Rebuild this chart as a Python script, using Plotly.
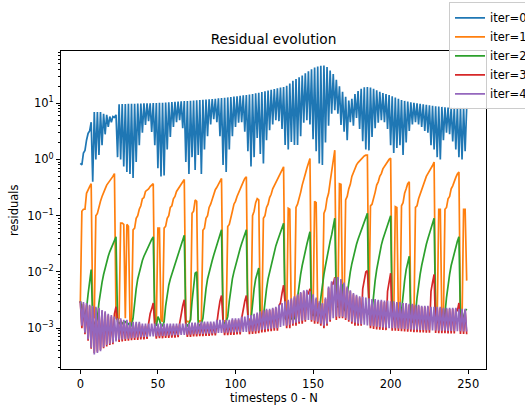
import plotly.graph_objects as go

# time axis: one sample per timestep
timesteps = list(range(250))

# residuals per Newton iteration (log scale)
iter0 = [
    0.85, 0.8, 1.3, 1.45, 2.2, 2.9, 3.2, 4.6, 0.4, 7.0,
    1.0, 7.0, 1.2, 7.0, 1.8, 6.5, 2.8, 6.2, 3.8, 5.8,
    4.6, 5.8, 5.6, 6.2, 1.1, 9.6, 1.0, 9.7, 0.75, 9.7,
    0.6, 9.8, 0.55, 9.8, 0.47, 9.8, 0.9, 9.9, 1.8, 9.9,
    3.0, 10.0, 4.1, 10.0, 4.8, 10.0, 3.1, 10.1, 1.8, 10.1,
    0.7, 10.2, 0.5, 10.2, 0.52, 10.3, 1.5, 10.4, 2.5, 10.5,
    3.8, 10.6, 4.6, 10.7, 5.0, 10.8, 3.6, 10.9, 0.9, 11.0,
    0.55, 11.1, 1.1, 11.2, 0.65, 11.3, 1.2, 11.4, 0.55, 11.5,
    1.5, 11.6, 2.6, 11.8, 4.2, 11.9, 5.2, 12.0, 4.6, 12.2,
    2.6, 12.4, 0.8, 12.5, 0.6, 12.7, 1.5, 12.9, 2.6, 13.1,
    3.8, 13.3, 4.5, 13.5, 4.6, 13.8, 3.1, 14.0, 1.4, 14.3,
    0.75, 14.6, 1.1, 15.0, 2.4, 15.4, 1.25, 15.8, 0.85, 16.3,
    2.2, 16.8, 3.3, 17.3, 4.2, 17.9, 5.0, 18.5, 4.8, 19.0,
    3.5, 19.5, 1.8, 20.5, 1.5, 22.5, 2.05, 25.0, 1.8, 27.0,
    1.8, 29.0, 2.6, 31.0, 4.5, 34.0, 5.0, 37.0, 4.2, 40.0,
    2.3, 43.0, 1.4, 45.0, 0.85, 46.5, 0.8, 47.0, 2.0, 44.0,
    4.0, 38.0, 6.5, 33.0, 7.5, 26.0, 6.5, 20.0, 4.1, 16.0,
    3.1, 13.0, 2.2, 11.2, 4.6, 12.0, 4.0, 14.5, 5.5, 16.5,
    3.5, 18.0, 2.1, 19.2, 1.5, 19.5, 1.45, 19.0, 2.5, 18.0,
    3.6, 17.0, 4.5, 16.0, 5.0, 15.2, 4.6, 14.5, 3.5, 14.0,
    1.8, 13.3, 1.3, 12.6, 1.6, 12.0, 1.8, 11.4, 1.2, 11.0,
    2.0, 10.7, 3.2, 10.4, 4.2, 10.2, 4.6, 10.0, 4.2, 9.8,
    3.8, 9.6, 3.2, 9.4, 3.0, 9.2, 1.8, 9.0, 1.5, 8.8,
    1.1, 8.7, 1.0, 8.6, 2.2, 8.5, 3.0, 8.4, 2.8, 8.4,
    2.1, 8.3, 1.5, 8.3, 1.1, 8.3, 1.0, 8.3, 1.4, 8.3,
]

iter1 = [
    0.0028, 0.12, 0.13, 0.13, 0.25, 0.3, 0.33, 0.37, 0.0016, 0.0015,
    0.1, 0.11, 0.15, 0.18, 0.22, 0.25, 0.3, 0.35, 0.38, 0.42,
    0.46, 0.5, 0.56, 0.0015, 0.0014, 0.0015, 0.074, 0.074, 0.07, 0.0015,
    0.07, 0.065, 0.0013, 0.0012, 0.056, 0.06, 0.09, 0.1, 0.13, 0.15,
    0.2, 0.21, 0.27, 0.28, 0.3, 0.33, 0.35, 0.37, 0.0014, 0.0013,
    0.06, 0.06, 0.0014, 0.0013, 0.06, 0.065, 0.09, 0.1, 0.14, 0.15,
    0.2, 0.22, 0.27, 0.3, 0.33, 0.37, 0.42, 0.44, 0.0014, 0.0013,
    0.0013, 0.0014, 0.11, 0.12, 0.19, 0.18, 0.0014, 0.0013, 0.0014, 0.055,
    0.06, 0.09, 0.1, 0.14, 0.16, 0.2, 0.24, 0.29, 0.32, 0.36,
    0.4, 0.46, 0.0014, 0.0013, 0.0014, 0.064, 0.07, 0.1, 0.12, 0.16,
    0.18, 0.22, 0.26, 0.3, 0.36, 0.4, 0.46, 0.49, 0.0015, 0.0014,
    0.0015, 0.1, 0.12, 0.17, 0.2, 0.19, 0.0015, 0.0014, 0.09, 0.1,
    0.14, 0.16, 0.21, 0.24, 0.3, 0.34, 0.4, 0.45, 0.52, 0.58,
    0.66, 0.74, 0.0016, 0.0015, 0.135, 0.13, 0.0016, 0.0015, 0.0016, 0.14,
    0.16, 0.22, 0.26, 0.35, 0.42, 0.55, 0.7, 0.9, 1.04, 0.002,
    0.0019, 0.18, 0.17, 0.0018, 0.0018, 0.0019, 0.002, 0.11, 0.13, 0.2,
    0.25, 0.4, 0.6, 1.0, 1.46, 0.0028, 0.0026, 0.37, 0.36, 0.0025,
    0.0022, 0.19, 0.22, 0.3, 0.36, 0.5, 0.6, 0.72, 0.8, 0.88,
    0.95, 1.0, 1.08, 1.15, 1.19, 1.19, 0.0018, 0.15, 0.16, 0.22,
    0.26, 0.35, 0.4, 0.5, 0.56, 0.68, 0.75, 0.85, 0.95, 1.0,
    1.05, 0.0017, 0.0016, 0.145, 0.14, 0.0016, 0.0015, 0.15, 0.17, 0.25,
    0.3, 0.37, 0.4, 0.0015, 0.0014, 0.0015, 0.14, 0.15, 0.2, 0.24,
    0.3, 0.36, 0.45, 0.5, 0.56, 0.62, 0.7, 0.78, 0.9, 0.0015,
    0.0014, 0.13, 0.13, 0.0014, 0.0014, 0.13, 0.14, 0.2, 0.22, 0.3,
    0.34, 0.42, 0.48, 0.55, 0.6, 0.0014, 0.0013, 0.13, 0.13, 0.007,
]

iter2 = [
    0.003, 0.0022, 0.0018, 0.0018, 0.0022, 0.004, 0.0075, 0.011, 0.0014, 0.0012,
    0.0012, 0.0015, 0.0028, 0.0045, 0.0065, 0.009, 0.012, 0.015, 0.019, 0.023,
    0.027, 0.031, 0.036, 0.042, 0.0013, 0.0012, 0.0013, 0.0012, 0.0013, 0.0013,
    0.0012, 0.0012, 0.0011, 0.0011, 0.0015, 0.003, 0.005, 0.0075, 0.01, 0.013,
    0.016, 0.019, 0.022, 0.026, 0.03, 0.034, 0.038, 0.042, 0.0012, 0.0011,
    0.0016, 0.0014, 0.0011, 0.0011, 0.0013, 0.0025, 0.0042, 0.0058, 0.0075, 0.0092,
    0.011, 0.014, 0.017, 0.021, 0.026, 0.031, 0.037, 0.045, 0.0012, 0.0011,
    0.0012, 0.0014, 0.003, 0.006, 0.0095, 0.01, 0.0012, 0.0011, 0.0012, 0.0015,
    0.003, 0.005, 0.0075, 0.01, 0.013, 0.016, 0.02, 0.025, 0.03, 0.036,
    0.045, 0.056, 0.0013, 0.0012, 0.0013, 0.0016, 0.003, 0.005, 0.0075, 0.01,
    0.013, 0.017, 0.021, 0.026, 0.032, 0.039, 0.047, 0.056, 0.0013, 0.0012,
    0.0014, 0.003, 0.005, 0.0075, 0.01, 0.0117, 0.0013, 0.0012, 0.0016, 0.003,
    0.005, 0.0075, 0.01, 0.014, 0.018, 0.023, 0.029, 0.035, 0.043, 0.052,
    0.062, 0.073, 0.0015, 0.0014, 0.0016, 0.0015, 0.0015, 0.0014, 0.0015, 0.0018,
    0.0035, 0.006, 0.009, 0.013, 0.018, 0.024, 0.031, 0.04, 0.052, 0.0018,
    0.0017, 0.0019, 0.0018, 0.0016, 0.0019, 0.0035, 0.006, 0.009, 0.013, 0.019,
    0.026, 0.035, 0.046, 0.062, 0.09, 0.0025, 0.0024, 0.0025, 0.004, 0.006,
    0.0022, 0.002, 0.004, 0.007, 0.01, 0.014, 0.019, 0.025, 0.031, 0.038,
    0.046, 0.055, 0.065, 0.078, 0.095, 0.11, 0.0018, 0.0017, 0.002, 0.004,
    0.007, 0.011, 0.016, 0.022, 0.03, 0.038, 0.047, 0.058, 0.07, 0.085,
    0.1, 0.0016, 0.0015, 0.0017, 0.0016, 0.0015, 0.0014, 0.002, 0.004, 0.007,
    0.011, 0.015, 0.019, 0.0014, 0.0013, 0.0014, 0.0018, 0.0035, 0.006, 0.009,
    0.013, 0.018, 0.024, 0.031, 0.039, 0.048, 0.058, 0.072, 0.09, 0.0014,
    0.0013, 0.0015, 0.0014, 0.0013, 0.0013, 0.0018, 0.0035, 0.006, 0.009, 0.013,
    0.017, 0.022, 0.028, 0.035, 0.042, 0.0014, 0.0015, 0.0016, 0.002, 0.0022,
]

iter3 = [
    0.003, 0.001, 0.0027, 0.00078, 0.0026, 0.0006, 0.0025, 0.00043, 0.0024, 0.00036,
    0.0023, 0.00038, 0.0022, 0.00041, 0.002, 0.00044, 0.0019, 0.00047, 0.0017, 0.0005,
    0.0016, 0.00052, 0.0018, 0.0024, 0.0014, 0.00057, 0.0014, 0.00058, 0.0013, 0.00059,
    0.0013, 0.0006, 0.0012, 0.00061, 0.0012, 0.00062, 0.0012, 0.00062, 0.0012, 0.00063,
    0.0011, 0.00063, 0.0011, 0.00064, 0.0012, 0.0018, 0.0022, 0.0028, 0.0011, 0.00065,
    0.0011, 0.00066, 0.0011, 0.00066, 0.0011, 0.00067, 0.0011, 0.00067, 0.0011, 0.00068,
    0.0011, 0.00068, 0.0011, 0.00069, 0.0012, 0.0018, 0.0025, 0.0032, 0.0011, 0.0007,
    0.0011, 0.0007, 0.0012, 0.00071, 0.0012, 0.00071, 0.0012, 0.00072, 0.0012, 0.00072,
    0.0012, 0.00073, 0.0012, 0.00073, 0.0012, 0.00074, 0.0012, 0.00074, 0.0013, 0.002,
    0.003, 0.0038, 0.0013, 0.00075, 0.0013, 0.00075, 0.0013, 0.00076, 0.0014, 0.00076,
    0.0014, 0.00077, 0.0014, 0.00077, 0.0015, 0.0022, 0.003, 0.0038, 0.0016, 0.00078,
    0.0016, 0.00079, 0.0017, 0.0008, 0.0018, 0.00081, 0.0019, 0.00084, 0.002, 0.00085,
    0.0021, 0.00087, 0.0021, 0.00088, 0.0022, 0.0009, 0.0023, 0.0009, 0.0025, 0.0028,
    0.0042, 0.0058, 0.0028, 0.001, 0.003, 0.001, 0.0032, 0.0011, 0.0035, 0.0011,
    0.0038, 0.0012, 0.0042, 0.0012, 0.0045, 0.0013, 0.0046, 0.004, 0.005, 0.0013,
    0.0038, 0.0012, 0.0033, 0.0012, 0.0028, 0.0011, 0.0027, 0.001, 0.0033, 0.0011,
    0.0052, 0.0013, 0.0065, 0.006, 0.008, 0.0014, 0.0077, 0.0015, 0.0071, 0.0015,
    0.0062, 0.0014, 0.0052, 0.0013, 0.0045, 0.0012, 0.004, 0.0011, 0.0037, 0.0011,
    0.0035, 0.0011, 0.005, 0.0075, 0.01, 0.0105, 0.0032, 0.001, 0.0031, 0.00097,
    0.0031, 0.00095, 0.003, 0.00094, 0.003, 0.00093, 0.0029, 0.00092, 0.0045, 0.007,
    0.0095, 0.0009, 0.0028, 0.0009, 0.0028, 0.00089, 0.0028, 0.00088, 0.0027, 0.00087,
    0.0027, 0.00086, 0.0026, 0.00086, 0.0026, 0.00085, 0.0025, 0.00085, 0.0025, 0.00084,
    0.0024, 0.00084, 0.0024, 0.00083, 0.0024, 0.00083, 0.0045, 0.0065, 0.009, 0.00082,
    0.0023, 0.00081, 0.0023, 0.00081, 0.0022, 0.00081, 0.0022, 0.0008, 0.0022, 0.0008,
    0.0022, 0.0008, 0.0022, 0.002, 0.0028, 0.00079, 0.0021, 0.00079, 0.0021, 0.00078,
]

iter4 = [
    0.003, 0.0011, 0.0029, 0.00083, 0.0028, 0.00063, 0.0026, 0.00045, 0.0025, 0.00034,
    0.0024, 0.00036, 0.0023, 0.00039, 0.0021, 0.00046, 0.002, 0.0005, 0.0018, 0.00053,
    0.0017, 0.00055, 0.0016, 0.00058, 0.0015, 0.00062, 0.0015, 0.00063, 0.0014, 0.00064,
    0.0014, 0.00065, 0.0013, 0.00066, 0.0013, 0.00067, 0.0013, 0.00068, 0.0013, 0.00069,
    0.0012, 0.0007, 0.0012, 0.0007, 0.0012, 0.00071, 0.0012, 0.00071, 0.0012, 0.00072,
    0.0012, 0.00072, 0.0012, 0.00073, 0.0012, 0.00073, 0.0012, 0.00074, 0.0012, 0.00074,
    0.0012, 0.00075, 0.0012, 0.00075, 0.0012, 0.00076, 0.0012, 0.00076, 0.0012, 0.00077,
    0.0012, 0.00077, 0.00125, 0.00078, 0.00125, 0.00078, 0.00125, 0.00079, 0.0013, 0.00079,
    0.0013, 0.0008, 0.0013, 0.0008, 0.0013, 0.00081, 0.0013, 0.00081, 0.0014, 0.00082,
    0.0014, 0.00082, 0.0014, 0.00083, 0.0014, 0.00083, 0.0014, 0.00084, 0.0015, 0.00084,
    0.0015, 0.00085, 0.0015, 0.00085, 0.0016, 0.00086, 0.0016, 0.00086, 0.0017, 0.00087,
    0.0017, 0.00087, 0.0018, 0.00088, 0.0019, 0.0009, 0.002, 0.00094, 0.0021, 0.00095,
    0.0022, 0.00097, 0.0022, 0.00098, 0.0023, 0.001, 0.0024, 0.001, 0.0026, 0.00105,
    0.0028, 0.0011, 0.003, 0.0011, 0.0032, 0.00115, 0.0034, 0.0012, 0.0037, 0.00125,
    0.004, 0.0013, 0.0044, 0.00135, 0.0047, 0.0014, 0.0048, 0.0014, 0.0045, 0.0014,
    0.004, 0.00135, 0.0035, 0.0013, 0.003, 0.0012, 0.0028, 0.0011, 0.0035, 0.0012,
    0.0055, 0.0014, 0.0068, 0.0015, 0.0078, 0.0016, 0.0081, 0.0016, 0.0075, 0.0016,
    0.0065, 0.0015, 0.0055, 0.0014, 0.0047, 0.0013, 0.0042, 0.00125, 0.0039, 0.0012,
    0.0037, 0.00118, 0.0036, 0.00115, 0.0035, 0.00112, 0.0034, 0.0011, 0.0033, 0.00108,
    0.0033, 0.00106, 0.0032, 0.00105, 0.0032, 0.00103, 0.0031, 0.00102, 0.0031, 0.001,
    0.003, 0.001, 0.003, 0.001, 0.0029, 0.00099, 0.0029, 0.00098, 0.0028, 0.00097,
    0.0028, 0.00096, 0.0027, 0.00095, 0.0027, 0.00094, 0.0026, 0.00094, 0.0026, 0.00093,
    0.0025, 0.00093, 0.0025, 0.00092, 0.0025, 0.00092, 0.0024, 0.00091, 0.0024, 0.00091,
    0.0024, 0.0009, 0.0024, 0.0009, 0.0023, 0.0009, 0.0023, 0.00089, 0.0023, 0.00089,
    0.0023, 0.00088, 0.0023, 0.00088, 0.0022, 0.00088, 0.0022, 0.00087, 0.0022, 0.00087,
]

series_names = ["iter=0", "iter=1", "iter=2", "iter=3", "iter=4"]
series_values = [iter0, iter1, iter2, iter3, iter4]
series_colors = ["#1f77b4", "#ff7f0e", "#2ca02c", "#d62728", "#9467bd"]

x_ticks = [0, 50, 100, 150, 200, 250]
y_ticks = [1e-3, 1e-2, 1e-1, 1, 10]
y_tick_text = ["10<sup>−3</sup>", "10<sup>−2</sup>", "10<sup>−1</sup>",
               "10<sup>0</sup>", "10<sup>1</sup>"]
y_minor = [m * 10.0 ** e for e in range(-4, 2) for m in range(2, 10)]

FONT = "DejaVu Sans"

fig = go.Figure()
for name, vals, color in zip(series_names, series_values, series_colors):
    fig.add_trace(go.Scatter(
        x=timesteps, y=vals, mode="lines", name=name,
        line=dict(color=color, width=1.7),
    ))

axis_common = dict(
    showline=True, linecolor="black", linewidth=1, mirror=True,
    showgrid=False, zeroline=False,
    ticks="outside", ticklen=4, tickwidth=1, tickcolor="black",
    tickfont=dict(family=FONT, size=11.5, color="black"),
)

fig.update_layout(
    width=525, height=406,
    margin=dict(l=61, r=39, t=51, b=37, autoexpand=False),
    paper_bgcolor="white", plot_bgcolor="white",
    font=dict(family=FONT, size=11.5, color="black"),
    title=dict(text="Residual evolution", x=0.5, xref="paper", xanchor="center",
               y=1 - 39 / 406, yref="container", yanchor="middle",
               font=dict(family=FONT, size=13.7, color="black")),
    xaxis=dict(range=[-12.45, 261.45], tickvals=x_ticks, **axis_common),
    yaxis=dict(type="log", range=[-3.727, 1.929], tickvals=y_ticks,
               ticktext=y_tick_text,
               minor=dict(tickvals=y_minor, ticks="outside", ticklen=2,
                          tickwidth=0.8, tickcolor="black", showgrid=False),
               **axis_common),
    legend=dict(x=(449 - 61) / 425, y=(369 - 2) / 318.3, xanchor="left",
                yanchor="top", bgcolor="rgba(255,255,255,0.8)",
                bordercolor="#cccccc", borderwidth=1,
                font=dict(family=FONT, size=11.5, color="black")),
    showlegend=True,
)

# axis titles
fig.add_annotation(text="timesteps 0 - N", x=0.5, xref="paper",
                   y=-(398 - 369) / 318.3, yref="paper", yanchor="middle",
                   showarrow=False, font=dict(family=FONT, size=11.5))
fig.add_annotation(text="residuals", x=(14 - 61) / 425, xref="paper",
                   y=0.5, yref="paper", xanchor="center", yanchor="middle",
                   textangle=-90, showarrow=False,
                   font=dict(family=FONT, size=11.5))

fig.write_html("out.html")
